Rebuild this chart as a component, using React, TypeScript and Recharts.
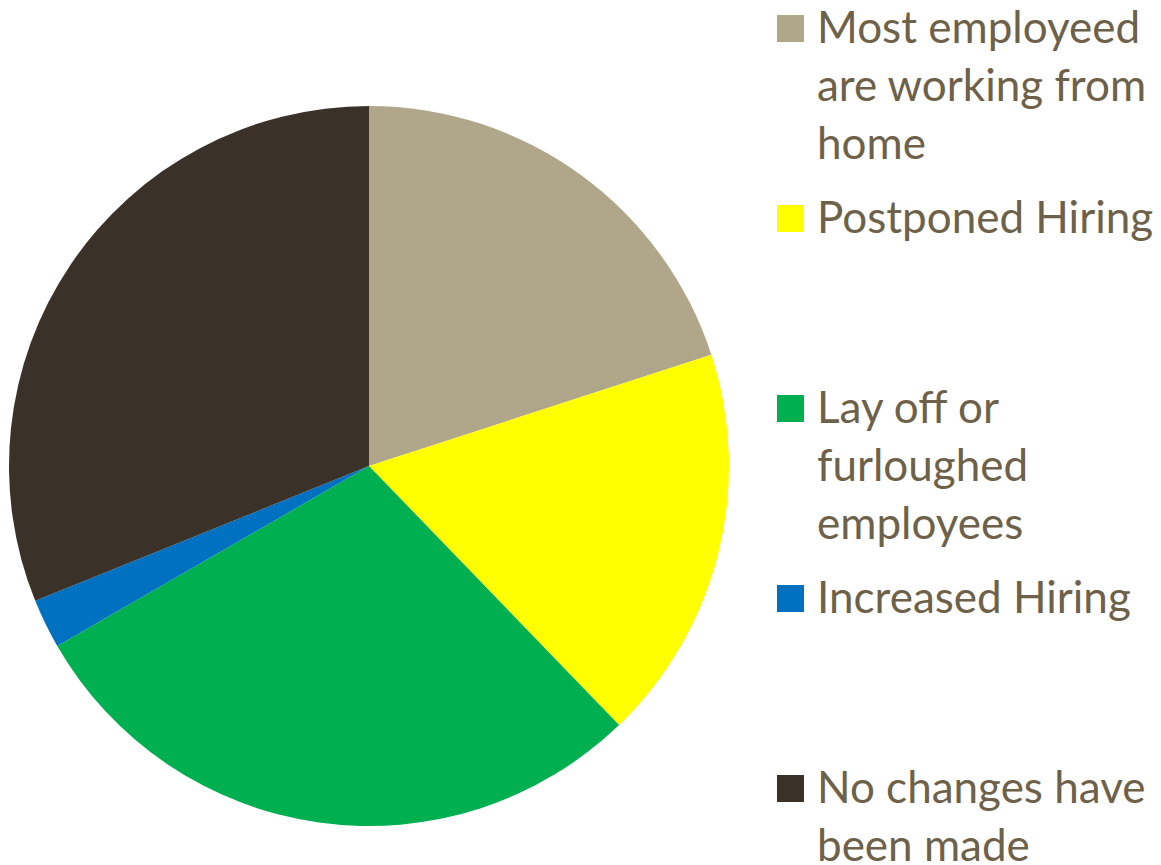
import React from "react";
import { PieChart, Pie, Cell, Legend } from "recharts";

const categories = [
  "Most employeed are working from home",
  "Postponed Hiring",
  "Lay off or furloughed employees",
  "Increased Hiring",
  "No changes have been made",
];
const legendLines = [
  ["Most employeed", "are working from", "home"],
  ["Postponed Hiring"],
  ["Lay off or", "furloughed", "employees"],
  ["Increased Hiring"],
  ["No changes have", "been made"],
];
const values = [9, 8, 13, 1, 14];
const colors = ["#B0A68A", "#FFFF00", "#00B050", "#0070C0", "#3A3228"];

const data = categories.map((name, i) => ({ name, value: values[i] }));

const TEXT_COLOR = "#6D6249";

const renderLegend = () => (
  <div style={{ position: "relative", width: 1161, height: 865 }}>
    {categories.map((name, i) => (
      <div key={name}>
        <div
          style={{
            position: "absolute",
            left: 777,
            top: 15 + i * 190,
            width: 27,
            height: 27,
            background: colors[i],
          }}
        />
        {legendLines[i].map((line, j) => (
          <div
            key={j}
            style={{
              position: "absolute",
              left: 817,
              top: i * 190 + j * 58 - 3,
              fontFamily: "Lato, 'Open Sans', sans-serif",
              fontSize: 44,
              lineHeight: "58px",
              color: TEXT_COLOR,
              whiteSpace: "nowrap",
            }}
          >
            {line}
          </div>
        ))}
      </div>
    ))}
  </div>
);

export default function App() {
  return (
    <div style={{ position: "absolute", left: 0, top: 0 }}>
      <PieChart width={1161} height={865} margin={{ top: 0, right: 0, bottom: 0, left: 0 }}>
        <Pie
          data={data}
          dataKey="value"
          nameKey="name"
          cx={369}
          cy={466}
          outerRadius={360}
          startAngle={90}
          endAngle={-270}
          stroke="none"
          isAnimationActive={false}
          label={false}
          labelLine={false}
        >
          {data.map((d, i) => (
            <Cell key={d.name} fill={colors[i]} />
          ))}
        </Pie>
        <Legend
          content={renderLegend}
          wrapperStyle={{ position: "absolute", left: 0, top: 0, width: 1161, height: 865 }}
        />
      </PieChart>
    </div>
  );
}
